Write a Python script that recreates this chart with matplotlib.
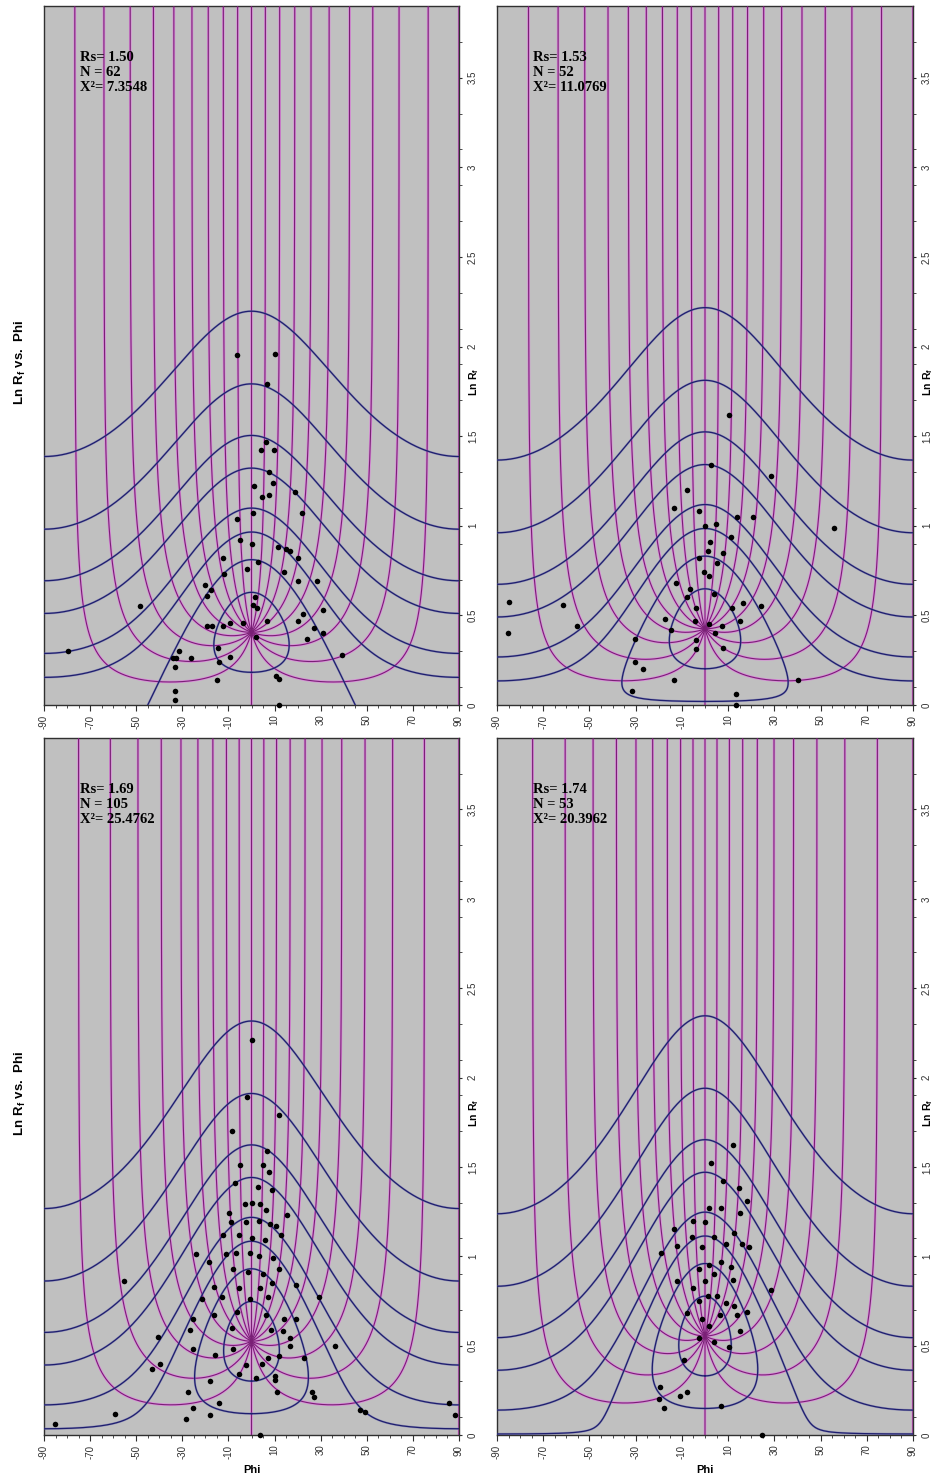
import numpy as np
import matplotlib.pyplot as plt
from matplotlib.ticker import FixedLocator, MultipleLocator, FuncFormatter
from matplotlib.transforms import offset_copy

plt.rcParams['font.family'] = ['Liberation Sans', 'DejaVu Sans']
plt.rcParams['mathtext.fontset'] = 'custom'
plt.rcParams['mathtext.rm'] = 'Liberation Sans'
plt.rcParams['mathtext.bf'] = 'Liberation Sans:bold'

# strain values and stats of the four samples
rs_values = [1.50, 1.53, 1.69, 1.74]
n_values = [62, 52, 105, 53]
chi2_values = ['7.3548', '11.0769', '25.4762', '20.3962']

# reference grid: initial axial ratios (blue) and initial orientations (magenta)
ri_levels = [1.25, 1.5, 1.75, 2, 2.5, 3, 4, 6]
theta_levels = [-81, -72, -63, -54, -45, -36, -27, -18, -9, 0,
                9, 18, 27, 36, 45, 54, 63, 72, 81, 90]

# measured markers (phi in degrees, ln Rf)
phi_a = [-6.3, 10.2, 6.6, 6.2, 4.0, 9.8, 7.7, 9.5, 1.1, 4.7, 7.6, 18.9, 22.0, 0.8,
         -6.2, -5.0, 0.1, 11.6, 14.8, 16.7, 20.3, -12.5, -11.9, -2.1, 2.7, 14.2,
         20.3, -20.2, -17.7, -19.4, -48.4, 1.5, 0.8, 2.5, 22.5, -3.8, 6.6, 20.3,
         -19.4, -17.0, -12.5, -9.3, 2.0, 23.9, -79.7, -31.4, -33.9, -32.9, -26.4,
         -14.4, -9.3, -14.0, -33.2, -14.8, 10.6, 12.1, -33.2, -33.2, 12.1, 28.5,
         31.1, 27.1, 30.9, 39.1]
lnrf_a = [1.95, 1.96, 1.79, 1.47, 1.42, 1.42, 1.30, 1.24, 1.22, 1.16, 1.17, 1.19,
          1.07, 1.07, 1.04, 0.92, 0.90, 0.88, 0.87, 0.86, 0.82, 0.82, 0.73, 0.76,
          0.80, 0.74, 0.69, 0.67, 0.64, 0.61, 0.55, 0.60, 0.56, 0.54, 0.51, 0.46,
          0.47, 0.47, 0.44, 0.44, 0.44, 0.46, 0.38, 0.37, 0.30, 0.30, 0.26, 0.26,
          0.26, 0.32, 0.27, 0.24, 0.21, 0.14, 0.16, 0.145, 0.08, 0.03, 0.0, 0.69,
          0.53, 0.43, 0.40, 0.28]

phi_b = [10.6, 2.4, 28.6, -7.7, -13.6, -2.8, 13.9, 20.9, 55.9, 0.1, 4.8, 11.3, 2.2,
         1.2, 7.7, -2.8, 5.0, -0.6, 1.6, -12.7, -6.3, 3.8, -7.7, 16.6, 24.3, -3.8,
         11.6, -17.5, -4.5, 15.2, -14.9, 1.9, 7.4, 4.5, -30.4, -4.1, -3.8, 8.0,
         -30.4, -26.8, -13.2, 40.1, -31.4, 13.5, 13.5, -84.8, -85.2, -61.5, -55.5]
lnrf_b = [1.62, 1.34, 1.28, 1.20, 1.10, 1.08, 1.05, 1.05, 0.99, 1.00, 1.01, 0.94,
          0.91, 0.86, 0.85, 0.82, 0.79, 0.74, 0.72, 0.68, 0.65, 0.62, 0.60, 0.57,
          0.55, 0.54, 0.54, 0.48, 0.47, 0.47, 0.42, 0.45, 0.44, 0.40, 0.37, 0.36,
          0.31, 0.32, 0.24, 0.20, 0.14, 0.14, 0.08, 0.06, 0.0, 0.575, 0.40, 0.56,
          0.44]

phi_c = [0.2, -2.0, 11.9, -8.5, 6.7, -5.0, 5.0, 7.6, -7.2, 2.8, 8.9, -2.8, 0.2, 3.7,
         6.3, -9.8, 15.4, -8.9, -2.4, 3.3, 8.0, 10.6, -12.4, -5.4, 0.2, 5.9, 12.8,
         -11.1, -6.7, -0.7, 3.3, 9.3, -24.1, -18.4, -8.0, -1.5, 5.0, 11.9, -16.3,
         -5.4, 3.7, 8.9, 19.3, -21.5, -12.8, -0.7, 7.2, -55.3, -25.4, -16.3, -6.3,
         6.3, 14.1, 19.3, 29.3, -40.5, -26.7, -8.5, 8.5, 13.7, 16.7, -39.7, -43.1,
         -25.4, -15.8, -8.0, -2.4, 4.6, 7.2, 11.9, 16.7, -18.0, -5.4, 2.0, 10.2,
         22.8, 36.2, -27.5, -25.4, -14.1, 10.2, 11.1, 26.2, 27.1, -28.4, -59.2,
         -18.0, -85.2, 3.7, 47.1, 49.2, 85.6, 88.2]
lnrf_c = [2.21, 1.89, 1.79, 1.70, 1.59, 1.51, 1.51, 1.47, 1.41, 1.39, 1.37, 1.29,
          1.30, 1.29, 1.26, 1.24, 1.23, 1.19, 1.19, 1.20, 1.18, 1.17, 1.12, 1.12,
          1.10, 1.09, 1.12, 1.01, 1.02, 1.02, 1.00, 0.99, 1.01, 0.97, 0.93, 0.91,
          0.90, 0.93, 0.83, 0.82, 0.82, 0.85, 0.84, 0.76, 0.77, 0.76, 0.77, 0.86,
          0.65, 0.67, 0.69, 0.67, 0.65, 0.65, 0.77, 0.55, 0.59, 0.60, 0.59, 0.58,
          0.54, 0.40, 0.37, 0.48, 0.45, 0.48, 0.39, 0.40, 0.43, 0.44, 0.50, 0.30,
          0.34, 0.32, 0.33, 0.43, 0.50, 0.24, 0.15, 0.18, 0.31, 0.24, 0.24, 0.21,
          0.09, 0.12, 0.11, 0.06, 0.0, 0.14, 0.13, 0.18, 0.11]

phi_d = [11.9, 2.4, 8.0, 14.9, 18.3, 1.9, 7.1, 15.3, -5.0, 0.2, -13.2, 12.7, 4.1,
         -19.2, -5.8, -11.9, -1.5, 9.3, 15.8, 19.2, 7.1, 1.9, 11.4, -2.8, 3.7, 11.9,
         -0.2, -12.3, -5.0, 1.5, 5.4, -2.4, 9.3, 12.7, -8.0, 14.0, 18.3, 28.7, -1.1,
         6.3, 1.9, 15.3, -2.4, 4.1, 10.6, -9.3, -19.6, -20.1, -11.0, -8.0, -17.9,
         7.1, 24.8]
lnrf_d = [1.62, 1.52, 1.42, 1.38, 1.31, 1.27, 1.27, 1.24, 1.20, 1.19, 1.15, 1.13,
          1.11, 1.02, 1.11, 1.06, 1.05, 1.07, 1.07, 1.05, 0.97, 0.95, 0.94, 0.93,
          0.90, 0.87, 0.86, 0.86, 0.82, 0.78, 0.78, 0.75, 0.74, 0.72, 0.68, 0.67,
          0.69, 0.81, 0.65, 0.67, 0.61, 0.58, 0.54, 0.52, 0.49, 0.42, 0.27, 0.20,
          0.22, 0.24, 0.15, 0.16, 0.0]

samples = [(phi_a, lnrf_a), (phi_b, lnrf_b), (phi_c, lnrf_c), (phi_d, lnrf_d)]


def strain_ellipse(ri, theta, rs):
    t = np.radians(theta)
    c, s = np.cos(t), np.sin(t)
    m11 = rs * (ri * c ** 2 + s ** 2 / ri)
    m22 = (ri * s ** 2 + c ** 2 / ri) / rs
    m12 = (ri - 1.0 / ri) * s * c
    half = 0.5 * (m11 + m22)
    disc = np.sqrt(0.25 * (m11 - m22) ** 2 + m12 ** 2)
    rf = np.sqrt((half + disc) / np.maximum(half - disc, 1e-12))
    phi = 0.5 * np.degrees(np.arctan2(2 * m12, m11 - m22))
    return phi, np.log(rf)


def broken(x, y):
    # split where phi wraps from one side to the other
    x = np.asarray(x, float)
    y = np.asarray(y, float)
    cut = np.where(np.abs(np.diff(x)) > 30)[0] + 1
    return np.insert(x, cut, np.nan), np.insert(y, cut, np.nan)


fig = plt.figure(figsize=(9.35, 14.81), dpi=100)

positions = [
    [44 / 935, 1 - 705 / 1481, 415 / 935, 699 / 1481],
    [497 / 935, 1 - 705 / 1481, 416 / 935, 699 / 1481],
    [44 / 935, 1 - 1435 / 1481, 415 / 935, 697 / 1481],
    [497 / 935, 1 - 1435 / 1481, 416 / 935, 697 / 1481],
]

ri_path = np.geomspace(1.0, 300.0, 4000)
theta_path = np.linspace(-90, 90, 1441)

for i, pos in enumerate(positions):
    ax = fig.add_axes(pos)
    ax.set_facecolor('#C0C0C0')
    rs = rs_values[i]

    # theta curves
    for th in theta_levels:
        px, py = strain_ellipse(ri_path, th, rs)
        px, py = broken(px, py)
        ax.plot(px, py, color='#D98CD9', lw=1.9, zorder=2, solid_capstyle='butt')
        ax.plot(px, py, color='#7A1F76', lw=0.8, zorder=3)

    # Ri curves
    for ri in ri_levels:
        px, py = strain_ellipse(ri, theta_path, rs)
        px, py = broken(px, py)
        ax.plot(px, py, color='#6B6BB0', lw=1.6, zorder=4, alpha=0.5)
        ax.plot(px, py, color='#1E1E6E', lw=0.9, zorder=5)

    phi, lnrf = samples[i]
    ax.scatter(phi, lnrf, s=16, color='black', zorder=6, clip_on=False, linewidths=0)

    ax.set_xlim(-90, 90)
    ax.set_ylim(0, 3.9)

    for sp in ax.spines.values():
        sp.set_color('#303030')
        sp.set_linewidth(1.0)

    ax.xaxis.set_major_locator(FixedLocator(np.arange(-90, 91, 20)))
    ax.xaxis.set_minor_locator(MultipleLocator(5))
    ax.xaxis.set_major_formatter(FuncFormatter(lambda v, p: '%d' % v))
    ax.yaxis.set_major_locator(MultipleLocator(0.5))
    ax.yaxis.set_minor_locator(FixedLocator(np.arange(0.1, 3.9, 0.2)))
    ax.yaxis.set_major_formatter(FuncFormatter(lambda v, p: '%g' % v))
    ax.yaxis.tick_right()

    ax.tick_params(axis='x', which='major', direction='out', length=4, width=0.8,
                   pad=3, labelrotation=90, labelsize=7, colors='#303030')
    ax.tick_params(axis='x', which='minor', direction='out', length=2.5, width=0.6,
                   colors='#303030')
    ax.tick_params(axis='y', which='major', direction='out', length=2.5, width=0.8,
                   pad=4, labelrotation=90, labelsize=7, colors='#303030',
                   left=False, right=True, labelleft=False, labelright=True)
    ax.tick_params(axis='y', which='minor', direction='out', length=2, width=0.6,
                   left=False, right=True, colors='#303030')
    for lbl in ax.get_yticklabels():
        lbl.set_va('center')

    ax.text(0.087, 0.936, 'Rs= %.2f\nN = %d\nX\u00b2= %s' % (rs, n_values[i], chi2_values[i]),
            transform=ax.transAxes, ha='left', va='top', fontfamily='Liberation Serif',
            fontweight='bold', fontsize=10.5, linespacing=1.2, zorder=7)

    lab_tr = offset_copy(ax.transAxes, fig=fig, x=15, y=0, units='dots')
    ax.text(1.0, 0.462, r'$\mathbf{Ln\ R_f}$', transform=lab_tr, rotation=90,
            ha='center', va='center', fontsize=7.5)

    if i >= 2:
        ax.text(0.5, -0.05, 'Phi', transform=ax.transAxes, ha='center', va='center',
                fontweight='bold', fontsize=8)
    if i % 2 == 0:
        cy = pos[1] + pos[3] * 0.49
        fig.text(0.022, cy, r'$\mathbf{Ln\ R_f\ vs.\ Phi}$', rotation=90,
                 ha='center', va='center', fontsize=9.5)

fig.savefig('out.png', dpi=100, facecolor='white')
